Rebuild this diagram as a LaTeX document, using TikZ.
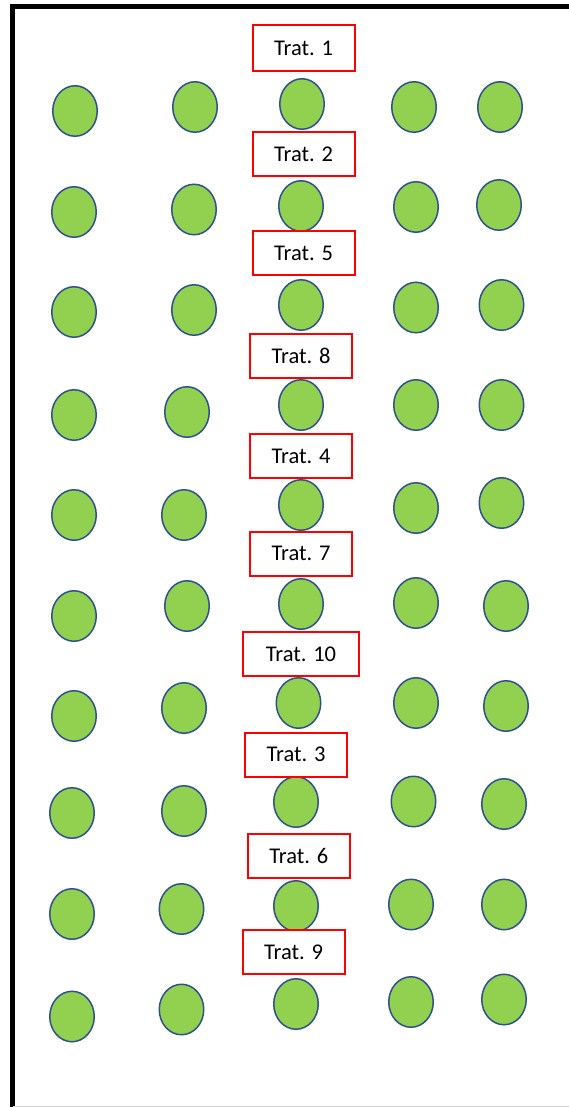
\documentclass[tikz,border=0pt]{standalone}
\usepackage{fontspec}
\setmainfont{Carlito}
\usetikzlibrary{shapes.geometric}
\definecolor{plantgreen}{HTML}{92D050}
\definecolor{plantedge}{HTML}{2F528F}
\definecolor{tratred}{HTML}{FF0000}
\tikzset{
  plant/.style={ellipse, fill=plantgreen, draw=plantedge, line width=1.5pt,
    minimum width=44.5pt, minimum height=50.5pt, inner sep=0pt},
  trat/.style={rectangle, fill=white, draw=tratred, line width=2pt,
    minimum width=102pt, minimum height=44pt, inner sep=0pt,
    font=\fontsize{22.5}{27}\selectfont},
  frame/.style={line width=4.5pt, color=black}
}
\begin{document}
\begin{tikzpicture}[x=1pt, y=-1pt]
\useasboundingbox (0,0) rectangle (569,1107);
\draw[frame] (12.7,1107) -- (12.7,6.7) -- (569,6.7);
\draw[gray!35, line width=1pt] (12.7,1106.5) -- (569,1106.5);
\foreach \r/\pts in {
  1/{75/111,195/107,302/104,414/107,500/107},
  2/{74/212,194/209.5,301/206,416/207,499/205},
  3/{74/312,194/310,301/305,416/307.5,501.5/305},
  4/{74/415,187/412,301/405,416/405,501.5/405},
  5/{74/515,184/515,301/505,416/508,501.5/503},
  6/{74/616,187/606,301/604,416/603,506/606},
  7/{74/716,184/708,298.5/703,416/703,506/706},
  8/{72/813,184/811,296/802,413.5/801.5,504/804},
  9/{72/914,181.5/909,296/906,411/904.5,504/904.5},
  10/{72/1016.5,181.5/1009.5,296/1004,411/1002,504/999.5}} {
  \foreach \px/\py [count=\c] in \pts {
    \node[plant] (p\r-\c) at (\px,\py) {};
  }
}
\node[trat, minimum height=46pt] (trat1) at (303.5,48) {Trat. 1};
\node[trat] (trat2) at (303.5,154.5) {Trat. 2};
\node[trat] (trat5) at (303.5,253) {Trat. 5};
\node[trat] (trat8) at (301,355.5) {Trat. 8};
\node[trat] (trat4) at (301,456) {Trat. 4};
\node[trat] (trat7) at (301,553.5) {Trat. 7};
\node[trat, minimum width=116pt] (trat10) at (301,654) {Trat. 10};
\node[trat] (trat3) at (296,754.5) {Trat. 3};
\node[trat] (trat6) at (298.8,855.5) {Trat. 6};
\node[trat] (trat9) at (293.5,952) {Trat. 9};
\end{tikzpicture}
\end{document}
